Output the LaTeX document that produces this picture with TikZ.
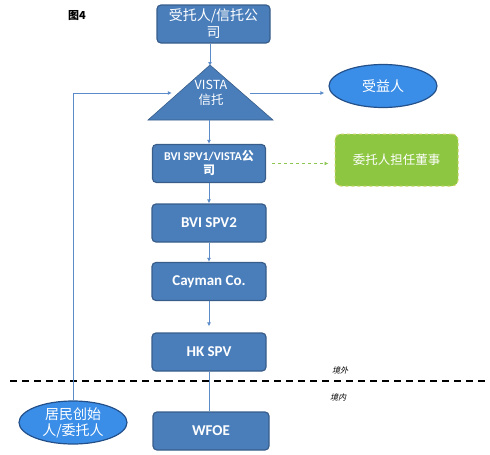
\documentclass[tikz,border=0pt]{standalone}
\usepackage{fontspec}
\setmainfont{Carlito}
\newfontfamily\cjk{Noto Sans CJK SC}
\newfontfamily\cjkslant[FakeSlant=0.25]{Noto Sans CJK SC}
\usetikzlibrary{shapes.geometric,arrows.meta}
\definecolor{boxblue}{HTML}{4A7EBB}
\definecolor{boxline}{HTML}{385D8A}
\definecolor{ellblue}{HTML}{3A8EE8}
\definecolor{ellline}{HTML}{24508A}
\definecolor{arrowblue}{HTML}{5B8BC9}
\definecolor{greenfill}{HTML}{8DC641}
\definecolor{greenline}{HTML}{CAD56A}
\definecolor{greenarrow}{HTML}{8CC653}
\tikzset{
    entity/.style={draw=boxline, fill=boxblue, line width=1.2pt, rounded corners=4pt,
        minimum width=113pt, minimum height=38pt, text=white, align=center, inner sep=2pt,
        font=\bfseries\fontsize{15}{17}\selectfont},
    party/.style={ellipse, draw=ellline, fill=ellblue, line width=1.2pt, minimum width=108pt,
        minimum height=43pt, text=white, align=center, inner sep=0pt,
        font=\cjk\fontsize{14}{16}\selectfont},
    flow/.style={draw=arrowblue, line width=0.9pt, -{Latex[length=4pt,width=4pt]}}
}
\begin{document}
\begin{tikzpicture}[x=1pt, y=-1pt]
    \useasboundingbox (0,0) rectangle (490,455);

    % Title
    \node[font=\cjk\bfseries\fontsize{11}{13}\selectfont] (title) at (77,16) {图4};

    % Trustee on top
    \node[entity, font=\cjk\fontsize{14}{17}\selectfont] (trustee) at (213.5,24) {受托人/信托公\\司};

    % VISTA trust triangle
    \coordinate (apex) at (210,65);
    \coordinate (base) at (209,120);
    \draw[draw=boxline, fill=boxblue, line width=0.6pt] (apex) -- (273,120) -- (148,120) -- cycle;
    \node[minimum width=78pt, align=center, text=white, inner sep=0pt,
        font=\cjk\fontsize{12.5}{15}\selectfont] (trust) at (211,93) {VISTA\\信托};

    % Beneficiary
    \node[party] (bene) at (383,86) {受益人};

    % Holding chain
    \node[entity, font=\bfseries\fontsize{12}{14}\selectfont] (spvone) at (209,163.5) {BVI SPV1/VISTA{\cjk 公}\\{\cjk 司}};
    \node[entity, minimum width=114pt] (spvtwo) at (209,223) {BVI SPV2};
    \node[entity, minimum width=114pt] (cayman) at (209,281.5) {Cayman Co.};
    \node[entity, minimum width=114pt] (hkspv) at (209,352) {HK SPV};
    \node[entity, minimum width=116pt] (wfoe) at (211,431) {WFOE};

    % Director note
    \node[draw=greenline, dashed, fill=greenfill, line width=1pt, rounded corners=6pt,
        minimum width=123pt, minimum height=52pt, text=white,
        font=\cjk\fontsize{12.5}{15}\selectfont] (director) at (396.5,160) {委托人担任董事};

    % Founder / settlor
    \node[party] (founder) at (73,422.5) {居民创始\\人/委托人};

    % Border line
    \draw[line width=1.6pt, dash pattern=on 7pt off 5pt] (10,381) -- (490,381);
    \node[font=\cjkslant\fontsize{8}{10}\selectfont] (outside) at (340,370) {境外};
    \node[font=\cjkslant\fontsize{8}{10}\selectfont] (inside) at (338,397) {境内};

    % Connectors
    \draw[flow] (trustee.south -| apex) -- ([yshift=-1pt]apex);
    \draw[flow] (trust.east) -- ([xshift=-4pt]trust.east -| bene.west);
    \draw[flow] (base) -- (spvone.north -| base);
    \draw[flow] (spvone) -- (spvtwo);
    \draw[flow] (spvtwo) -- (cayman);
    \draw[flow, shorten >=6pt] (cayman) -- (hkspv);
    \draw[draw=arrowblue, line width=0.9pt] (hkspv) -- (wfoe.north -| hkspv);
    \draw[flow] (founder.north) |- (trust.west);
    \draw[flow, draw=greenarrow, line width=1pt, dash pattern=on 3pt off 3pt,
        shorten <=6pt, shorten >=6pt] (spvone.east) -- (spvone.east -| director.west);
\end{tikzpicture}
\end{document}
